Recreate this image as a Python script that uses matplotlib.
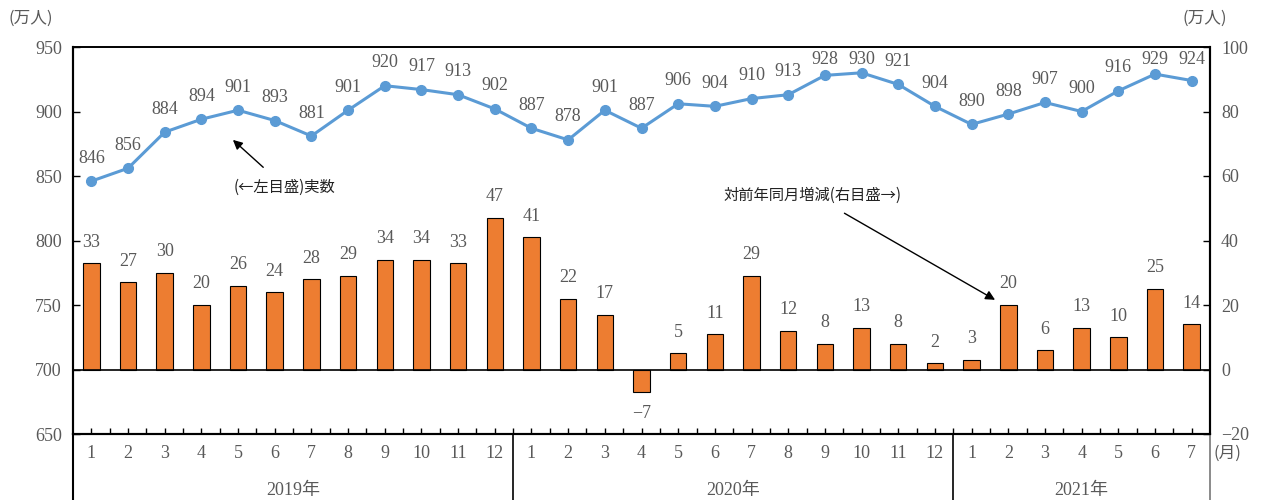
import matplotlib.pyplot as plt
from matplotlib.transforms import blended_transform_factory

plt.rcParams["font.family"] = ["Liberation Serif", "Noto Sans CJK JP"]

MONTHS = ["1", "2", "3", "4", "5", "6", "7", "8", "9", "10", "11", "12",
          "1", "2", "3", "4", "5", "6", "7", "8", "9", "10", "11", "12",
          "1", "2", "3", "4", "5", "6", "7"]
YEARS = ["2019年", "2020年", "2021年"]
YEAR_LENGTHS = [12, 12, 7]

# employed persons, 10k people (left axis)
ACTUAL = [846, 856, 884, 894, 901, 893, 881, 901, 920, 917, 913, 902,
          887, 878, 901, 887, 906, 904, 910, 913, 928, 930, 921, 904,
          890, 898, 907, 900, 916, 929, 924]
# change from the same month of the previous year (right axis)
YOY_CHANGE = [33, 27, 30, 20, 26, 24, 28, 29, 34, 34, 33, 47,
              41, 22, 17, -7, 5, 11, 29, 12, 8, 13, 8, 2,
              3, 20, 6, 13, 10, 25, 14]

LINE_COLOR = "#5B9BD5"
BAR_COLOR = "#ED7D31"
TEXT_COLOR = "#595959"
JP_FONT = ["Noto Sans CJK JP"]

W, H = 1266, 500
AX_TOP, AX_BOTTOM = 47, 434
fig = plt.figure(figsize=(W / 100, H / 100), dpi=100)
ax = fig.add_axes([73 / W, (H - AX_BOTTOM) / H, (1210 - 73) / W, (AX_BOTTOM - AX_TOP) / H])
ax2 = ax.twinx()
ax.set_zorder(ax2.get_zorder() + 1)
ax.patch.set_visible(False)

x = list(range(len(MONTHS)))

# bars on the right scale
ax2.bar(x, YOY_CHANGE, width=0.45, color=BAR_COLOR, edgecolor="black", linewidth=0.8)
ax2.axhline(0, color="black", linewidth=1.2)
for xi, v in zip(x, YOY_CHANGE):
    if v >= 0:
        ax2.annotate(str(v), (xi, v), xytext=(0, 9), textcoords="offset points",
                     ha="center", va="bottom", fontsize=13, color=TEXT_COLOR)
    else:
        ax2.annotate(f"\u2212{abs(v)}", (xi, v), xytext=(0, -9), textcoords="offset points",
                     ha="center", va="top", fontsize=13, color=TEXT_COLOR)

# line on the left scale; labels near the top are kept inside the frame
ax.plot(x, ACTUAL, color=LINE_COLOR, linewidth=2.2, marker="o", markersize=7)
for xi, v in zip(x, ACTUAL):
    py = AX_TOP + (950 - v) / 300 * (AX_BOTTOM - AX_TOP)
    lift = min(23, py - 59)
    ax.annotate(str(v), (xi, v), xytext=(0, lift * 0.72), textcoords="offset points",
                ha="center", va="center", fontsize=13, color=TEXT_COLOR)

ax.set_xlim(-0.5, len(MONTHS) - 0.5)
ax.set_ylim(650, 950)
ax.set_yticks(range(650, 951, 50))
ax2.set_ylim(-20, 100)
ax2.set_yticks(range(-20, 101, 20))
ax2.set_yticklabels([f"\u2212{abs(t)}" if t < 0 else str(t) for t in range(-20, 101, 20)])

ax.tick_params(axis="y", direction="in", length=5, width=1, labelsize=13,
               labelcolor=TEXT_COLOR, pad=8)
ax2.tick_params(axis="y", direction="in", length=5, width=1, labelsize=13,
                labelcolor=TEXT_COLOR, pad=8)

ax.set_xticks(x)
ax.set_xticklabels(MONTHS)
ax.set_xticks([i - 0.5 for i in range(1, len(MONTHS))], minor=True)
ax.tick_params(axis="x", which="both", direction="in", length=4, width=1,
               labelsize=13, labelcolor=TEXT_COLOR, pad=8)

for a in (ax, ax2):
    for s in a.spines.values():
        s.set_linewidth(1.5)
        s.set_color("black")
    a.spines["top"].set_linewidth(1.2)

# year groups under the month labels
trans = blended_transform_factory(ax.transData, ax.transAxes)
drop = 66 / (AX_BOTTOM - AX_TOP)
start = -0.5
for year, n in zip(YEARS, YEAR_LENGTHS):
    ax.text(start + n / 2, -drop + 0.025, year, transform=trans, ha="center",
            va="center", fontsize=13, color=TEXT_COLOR)
    start += n
    line_color = "black" if start < len(MONTHS) - 0.5 else "#777777"
    ax.plot([start, start], [0, -drop], transform=trans, color=line_color,
            linewidth=1.2, clip_on=False)
ax.plot([-0.5, -0.5], [0, -drop], transform=trans, color="black",
        linewidth=1.5, clip_on=False)

ax.text(1.003, -0.05, "(月)", transform=ax.transAxes, ha="left", va="center",
        fontsize=12, color=TEXT_COLOR, family=JP_FONT)
fig.text(8 / W, 1 - 18 / H, "(万人)", ha="left", va="center",
         fontsize=12, color=TEXT_COLOR, family=JP_FONT)
fig.text(1183 / W, 1 - 18 / H, "(万人)", ha="left", va="center",
         fontsize=12, color=TEXT_COLOR, family=JP_FONT)

# callouts
ax.annotate("(←左目盛)実数", xy=(3.86, 878), xytext=(5.28, 841.5),
            ha="center", va="center", fontsize=11, color="#222222", family=JP_FONT,
            arrowprops=dict(arrowstyle="-|>", color="black", lw=1,
                            shrinkA=9, shrinkB=0, mutation_scale=14))
ax2.annotate("対前年同月増減(右目盛→)", xy=(24.64, 21.6), xytext=(19.67, 54.1),
             ha="center", va="center", fontsize=11, color="#222222", family=JP_FONT,
             arrowprops=dict(arrowstyle="-|>", color="black", lw=1,
                             shrinkA=10, shrinkB=0, mutation_scale=14))

fig.savefig("out.png", dpi=100)
